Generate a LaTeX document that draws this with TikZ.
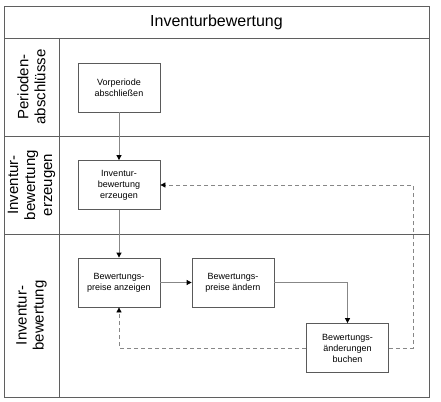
\documentclass[tikz,border=0pt]{standalone}
\usepackage{fontspec}
\setmainfont{Liberation Sans}
\usetikzlibrary{arrows.meta}
\definecolor{frame}{RGB}{95,95,95}
\definecolor{conn}{RGB}{135,135,135}
\definecolor{boxline}{RGB}{90,90,90}
\tikzset{
  lane/.style={draw=frame, line width=0.9pt},
  proc/.style={draw=boxline, line width=0.8pt, minimum width=82pt, minimum height=49pt,
    align=center, font=\fontsize{9}{11}\selectfont, inner sep=0pt, fill=white},
  lanelabel/.style={rotate=90, align=center, font=\fontsize{15}{17}\selectfont, inner sep=0pt},
  flow/.style={draw=conn, line width=0.8pt, -{Triangle[length=5pt,width=5pt,color=black]}},
  back/.style={flow, dash pattern=on 4pt off 3pt}
}
\begin{document}
\begin{tikzpicture}[x=1pt,y=-1pt]
\useasboundingbox (0,0) rectangle (441,401);
% frame
\draw[lane] (4,6) rectangle (429,397);
\draw[lane] (4,38) -- (429,38);
\draw[lane] (4,136) -- (429,136);
\draw[lane] (4,234) -- (429,234);
\draw[lane] (59,38) -- (59,397);
\node[font=\fontsize{16}{19}\selectfont] (title) at (216.5,22) {Inventurbewertung};
\node[lanelabel] (l1) at (31.5,87) {Perioden-\\abschlüsse};
\node[lanelabel] (l2) at (31.5,185) {Inventur-\\bewertung\\erzeugen};
\node[lanelabel] (l3) at (31.5,315.5) {Inventur-\\bewertung};
% boxes
\node[proc] (b1) at (119,87.5) {Vorperiode\\abschließen};
\node[proc] (b2) at (119,185) {Inventur-\\bewertung\\erzeugen};
\node[proc] (b3) at (119,282.5) {Bewertungs-\\preise anzeigen};
\node[proc] (b4) at (233,282.5) {Bewertungs-\\preise ändern};
\node[proc] (b5) at (347.5,348) {Bewertungs-\\änderungen\\buchen};
\coordinate (r) at (413,185);
% connectors
\draw[flow] (b1) -- (b2);
\draw[flow] (b2) -- (b3);
\draw[flow] (b3) -- (b4);
\draw[flow] (b4.east) -| (b5.north);
\draw[back] (b5.west) -| (b3.south);
\draw[back] (b5.east) -| (r) -- (b2.east);
\end{tikzpicture}
\end{document}
